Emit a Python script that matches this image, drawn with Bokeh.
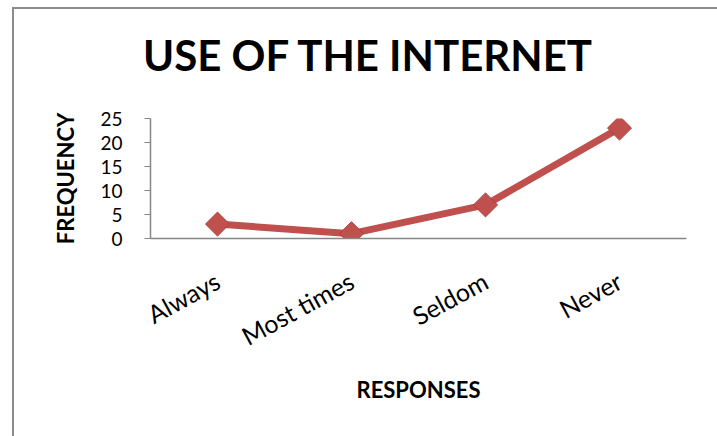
import math
from bokeh.plotting import figure
from bokeh.models import Range1d, FixedTicker, Div
from bokeh.layouts import column
from bokeh.embed import file_html
from bokeh.resources import INLINE

categories = ["Always", "Most times", "Seldom", "Never"]
frequency = [3, 1, 7, 23]
y_ticks = [0, 5, 10, 15, 20, 25]
title_text = "USE OF THE INTERNET"

FONT = "Lato"
GRAY = "#868686"
RED = "#C0504D"

title = Div(text=title_text, width=697, height=83,
            styles={"font-family": FONT, "font-size": "42px", "font-weight": "bold",
                    "text-align": "center", "line-height": "83px", "color": "black",
                    "background": "white"})

p = figure(width=697, height=357, x_range=categories, y_range=Range1d(0, 25),
           output_backend="svg", toolbar_location=None,
           min_border_left=136, min_border_right=25, min_border_top=16,
           min_border_bottom=221)

p.line(categories, frequency, line_color=RED, line_width=7)
p.scatter(categories, frequency, marker="square", angle=math.pi / 4, size=17,
          fill_color=RED, line_color="#b03f3c", line_width=1)

p.xgrid.visible = False
p.ygrid.visible = False
p.outline_line_color = None
p.background_fill_color = "white"
p.border_fill_color = "white"

ya = p.yaxis[0]
ya.ticker = FixedTicker(ticks=y_ticks)
ya.axis_line_color = GRAY
ya.axis_line_width = 1.5
ya.major_tick_line_color = GRAY
ya.major_tick_in = 0
ya.major_tick_out = 6
ya.minor_tick_line_color = None
ya.major_label_text_font = FONT
ya.major_label_text_font_size = "19px"
ya.major_label_text_color = "black"
ya.major_label_standoff = 22
ya.axis_label = "FREQUENCY"
ya.axis_label_text_font = FONT
ya.axis_label_text_font_size = "22px"
ya.axis_label_text_font_style = "bold"
ya.axis_label_text_color = "black"
ya.axis_label_standoff = 18

xa = p.xaxis[0]
xa.axis_line_color = GRAY
xa.axis_line_width = 1.5
xa.major_tick_line_color = None
xa.minor_tick_line_color = None
xa.major_label_orientation = 0.5
xa.major_label_text_font = FONT
xa.major_label_text_font_size = "25px"
xa.major_label_text_color = "black"
xa.major_label_standoff = 34
xa.axis_label = "RESPONSES"
xa.axis_label_text_font = FONT
xa.axis_label_text_font_size = "22px"
xa.axis_label_text_font_style = "bold"
xa.axis_label_text_color = "black"
xa.axis_label_standoff = 9

layout = column(title, p, spacing=0,
                styles={"border": "2px solid #8c8c8c", "margin-left": "12px",
                        "margin-top": "7px", "background": "white"})

open("out.html", "w").write(file_html(layout, INLINE))
